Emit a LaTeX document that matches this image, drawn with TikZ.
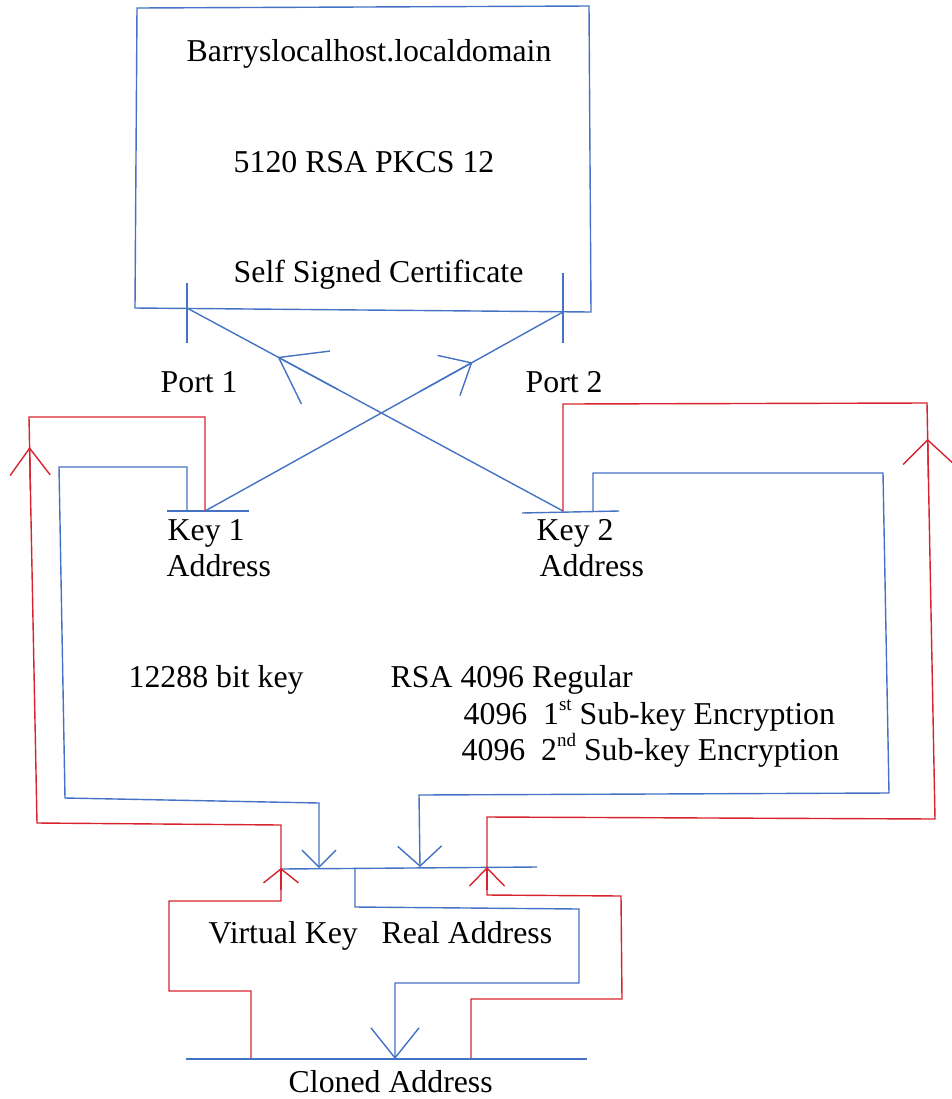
\documentclass[tikz,border=0pt]{standalone}
\usepackage{fontspec}
\setmainfont{Liberation Serif}
\usetikzlibrary{calc}
\usetikzlibrary{arrows.meta}

\definecolor{lnblue}{RGB}{68,114,196}
\definecolor{lnred}{RGB}{215,35,45}
\newcommand{\ordsup}[1]{\raisebox{0.42em}{\fontsize{9.5}{9.5}\selectfont #1}}

\begin{document}
\begin{tikzpicture}[x=0.5pt, y=-0.5pt, line width=0.7pt,
  every node/.style={inner sep=0pt, anchor=base west, font=\fontsize{15.9}{17.5}\selectfont},
  bl/.style={draw=lnblue}, rd/.style={draw=lnred},
  barb/.style 2 args={-{Straight Barb[length=#1,width=#2]}}]
  \useasboundingbox (0,0) rectangle (952,1099);
  % Certificate box
  \draw[bl] (137,8) -- (589,6) -- (591,312) -- (135,308) -- cycle;
  \node (host) at (186,61) {Barryslocalhost.localdomain};
  \node (pkcs) at (233,172) {5120 RSA PKCS 12};
  \node (cert) at (233,282) {Self Signed Certificate};
  % Ports and keys
  \coordinate (p1) at (187,308);
  \coordinate (p2) at (563,312);
  \coordinate (k1) at (205,511);
  \coordinate (k2) at (563,511);
  \draw[bl] (187,283) -- (187,343);
  \draw[bl] (563,273) -- (563,343);
  \node (port1) at (160,392) {Port 1};
  \node (port2) at (525,392) {Port 2};
  \draw[bl] (167,511) -- (249,511);
  \draw[bl] (522,513) -- (619,511);
  \node (key1) at (167,540) {Key 1};
  \node (addr1) at (166,576) {Address};
  \node (key2) at (536,540) {Key 2};
  \node (addr2) at (539,576) {Address};
  % Crossed links
  \draw[bl] (p1) -- (k2);
  \draw[bl] (k1) -- (p2);
  \draw[bl, barb={21pt}{30pt}] ($(p1)!0.4!(k2)$) -- ($(p1)!0.241!(k2)$);
  \draw[bl, barb={13pt}{23pt}] ($(k1)!0.6!(p2)$) -- ($(k1)!0.747!(p2)$);
  % Key sizes
  \node (bits) at (128,687) {12288 bit key};
  \node (rsa) at (390,687) {RSA 4096 Regular};
  \node (sub1) at (463,724) {4096\ \ 1\ordsup{st} Sub-key Encryption};
  \node (sub2) at (461,760) {4096\ \ 2\ordsup{nd} Sub-key Encryption};
  % Virtual key bar
  \coordinate (in1) at (319,868);
  \coordinate (in2) at (420,867);
  \coordinate (r1) at (281,868);
  \coordinate (r2) at (487,867);
  \coordinate (out) at (355,868);
  \draw[bl] (281,869) -- (537,867);
  \node (virt) at (208,943) {Virtual Key};
  \node (real) at (381,943) {Real Address};
  % Blue loops
  \draw[bl, barb={8.5pt}{17pt}] (187,511) -- (187,467) -- (59,467) -- (65,798) -- (319,803) -- (in1);
  \draw[bl, barb={10pt}{22pt}] (593,511) -- (593,473) -- (883,473) -- (889,793) -- (419,795) -- (in2);
  % Red loops
  \coordinate (cr1) at (251,1059);
  \coordinate (cr2) at (471,1059);
  \draw[rd] (k1) -- (205,417) -- (29,417) -- (37,823) -- (281,825) -- (281,901) -- (169,901) -- (169,991) -- (251,991) -- (cr1);
  \draw[rd, barb={13.5pt}{20pt}] (30.4,490) -- (29.6,447);
  \draw[rd, barb={7pt}{17.5pt}] (281,890) -- (r1);
  \draw[rd] (k2) -- (563,404) -- (927,403) -- (935,819) -- (487,817) -- (487,895) -- (621,896) -- (622,999) -- (471,999) -- (cr2);
  \draw[rd, barb={12pt}{25pt}] (928.5,480) -- (927.7,439);
  \draw[rd, barb={9pt}{17.5pt}] (487,890) -- (r2);
  % Cloned address
  \coordinate (cl) at (395,1059);
  \draw[bl, barb={15pt}{24pt}] (out) -- (355,907) -- (579,909) -- (579,983) -- (395,983) -- (cl);
  \draw[bl] (186,1059) -- (587,1059);
  \node (clone) at (288,1092) {Cloned Address};
\end{tikzpicture}
\end{document}
